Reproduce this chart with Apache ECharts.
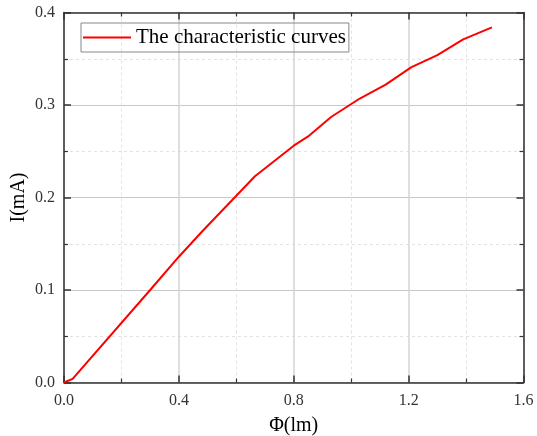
<!DOCTYPE html>
<html>
<head>
<meta charset="utf-8">
<script src="https://cdn.jsdelivr.net/npm/echarts@6/dist/echarts.min.js"></script>
<style>html,body{margin:0;padding:0;background:#fff}#c{width:537px;height:436px}</style>
</head>
<body>
<div id="c"></div>
<script>
const seriesName = 'The characteristic curves';
const fluxValues = [0, 0.03, 0.30, 0.40, 0.48, 0.665, 0.80, 0.85, 0.93, 1.03, 1.12, 1.21, 1.30, 1.39, 1.49];
const currentValues = [0, 0.004, 0.100, 0.136, 0.163, 0.223, 0.256, 0.266, 0.287, 0.307, 0.322, 0.341, 0.354, 0.371, 0.384];
const xTicks = [0, 0.4, 0.8, 1.2, 1.6];
const yTicks = [0, 0.1, 0.2, 0.3, 0.4];

const serif = 'Liberation Serif';
const axisColor = '#333';
const data = fluxValues.map((x, i) => [x, currentValues[i]]);

function baseX(show) {
  return {
    type: 'value', min: xTicks[0], max: xTicks[xTicks.length - 1], interval: 0.4,
    position: show ? 'bottom' : 'top',
    name: show ? 'Φ(lm)' : '', nameLocation: 'middle', nameGap: 33, nameMoveOverlap: false,
    nameTextStyle: { fontFamily: serif, fontSize: 20, color: '#000' },
    axisLine: { show: true, onZero: false, lineStyle: { color: axisColor, width: 1.5 } },
    axisTick: { show: true, inside: true, length: 7, lineStyle: { color: axisColor, width: 1.5 } },
    minorTick: { show: true, splitNumber: 2, length: 4, lineStyle: { color: axisColor, width: 1.2 } },
    axisLabel: { show: show, margin: 10, fontFamily: serif, fontSize: 16, color: '#333',
      formatter: v => v.toFixed(1) },
    splitLine: { show: show, lineStyle: { color: '#d4d4d4', width: 1.5 } },
    minorSplitLine: { show: show, lineStyle: { color: '#e2e2e2', width: 1, type: [3, 3] } }
  };
}
function baseY(show) {
  return {
    type: 'value', min: yTicks[0], max: yTicks[yTicks.length - 1], interval: 0.1,
    position: show ? 'left' : 'right',
    name: show ? 'I(mA)' : '', nameLocation: 'middle', nameGap: 35, nameMoveOverlap: false,
    nameTextStyle: { fontFamily: serif, fontSize: 20, color: '#000' },
    axisLine: { show: true, onZero: false, lineStyle: { color: axisColor, width: 1.5 } },
    axisTick: { show: true, inside: true, length: 7, lineStyle: { color: axisColor, width: 1.5 } },
    minorTick: { show: true, splitNumber: 2, length: 4, lineStyle: { color: axisColor, width: 1.2 } },
    axisLabel: { show: show, margin: 9, fontFamily: serif, fontSize: 16, color: '#333',
      formatter: v => v.toFixed(1) },
    splitLine: { show: show, lineStyle: { color: '#c8c8c8', width: 1.2 } },
    minorSplitLine: { show: show, lineStyle: { color: '#e2e2e2', width: 1, type: [3, 3] } }
  };
}

const chart = echarts.init(document.getElementById('c'), null, { renderer: 'canvas' });
chart.setOption({
  animation: false,
  backgroundColor: '#fff',
  grid: { left: 64, right: 13.5, top: 12.5, bottom: 53.5, containLabel: false, outerBoundsMode: 'none' },
  legend: {
    left: 81, top: 23,
    padding: [4, 3, 4, 2],
    borderColor: '#888', borderWidth: 1,
    itemWidth: 48, itemHeight: 2, itemGap: 6,
    textStyle: { fontFamily: serif, fontSize: 21, color: '#000' },
    data: [{ name: seriesName, icon: 'rect' }]
  },
  xAxis: [baseX(true), baseX(false)],
  yAxis: [baseY(true), baseY(false)],
  series: [{
    name: seriesName, type: 'line', data: data,
    xAxisIndex: 0, yAxisIndex: 0,
    symbol: 'none', smooth: false,
    lineStyle: { color: '#ff0000', width: 2 },
    itemStyle: { color: '#ff0000' }
  }]
});
</script>
</body>
</html>
